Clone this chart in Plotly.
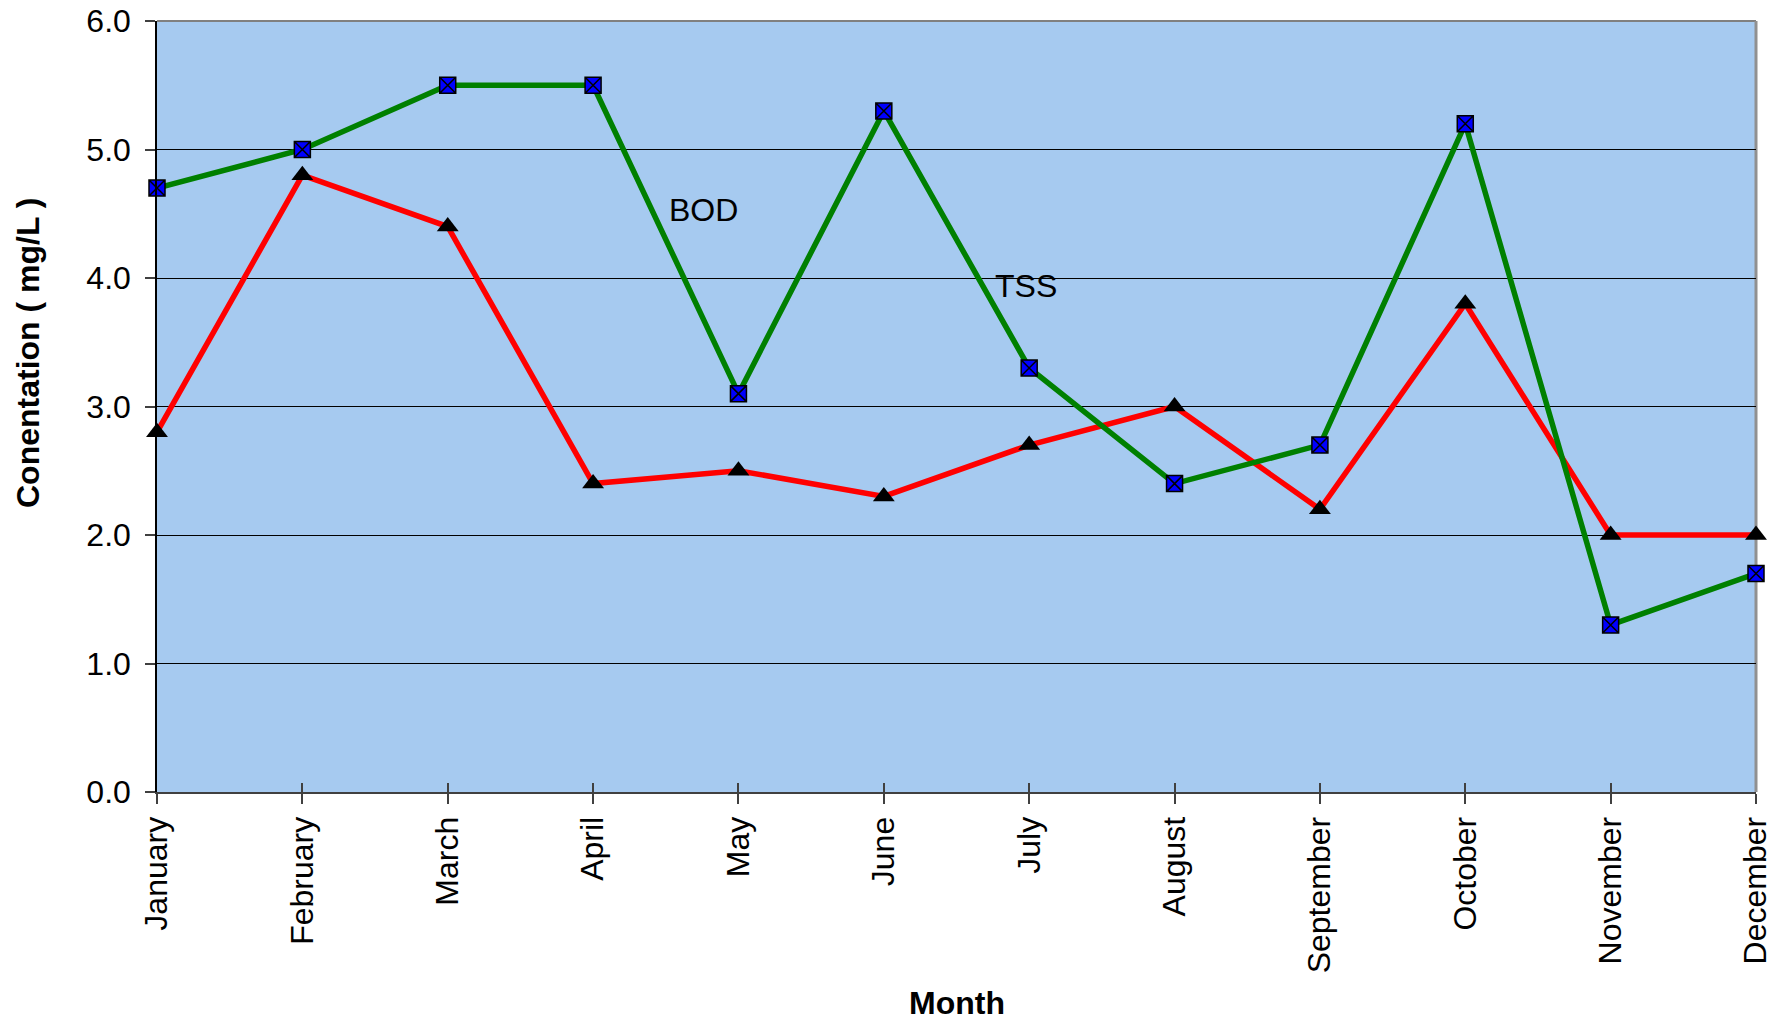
import plotly.graph_objects as go

months = ["January", "February", "March", "April", "May", "June",
          "July", "August", "September", "October", "November", "December"]
bod = [4.7, 5.0, 5.5, 5.5, 3.1, 5.3, 3.3, 2.4, 2.7, 5.2, 1.3, 1.7]
tss = [2.8, 4.8, 4.4, 2.4, 2.5, 2.3, 2.7, 3.0, 2.2, 3.8, 2.0, 2.0]
y_ticks = [0, 1, 2, 3, 4, 5, 6]
y_tick_text = ["0.0", "1.0", "2.0", "3.0", "4.0", "5.0", "6.0"]

FONT = "Liberation Sans, Arial, sans-serif"
FS = 32

fig = go.Figure()

fig.add_trace(go.Scatter(
    x=months, y=tss, name="TSS", mode="lines+markers",
    line=dict(color="#FF0000", width=5.5),
    marker=dict(symbol="triangle-up", size=19, color="black",
                line=dict(color="black", width=0)),
    cliponaxis=False,
))
fig.add_trace(go.Scatter(
    x=months, y=bod, name="BOD", mode="lines+markers",
    line=dict(color="#008000", width=5.5),
    marker=dict(symbol="square-x", size=16, color="#0000FF",
                line=dict(color="black", width=1.5)),
    cliponaxis=False,
))

# inward half of the crossing month ticks
fig.add_trace(go.Scatter(x=months, y=[None] * 12, xaxis="x2", yaxis="y",
                         showlegend=False, hoverinfo="skip"))

fig.add_annotation(x=3.76, y=4.53, text="BOD", showarrow=False,
                   font=dict(family=FONT, size=FS, color="black"))
fig.add_annotation(x=5.98, y=3.94, text="TSS", showarrow=False,
                   font=dict(family=FONT, size=FS, color="black"))

fig.add_annotation(xref="paper", yref="paper", x=-0.081, y=0.57,
                   text="<b>Conentation ( mg/L )</b>", textangle=-90,
                   showarrow=False, xanchor="center", yanchor="middle",
                   font=dict(family=FONT, size=FS, color="black"))
fig.add_annotation(xref="paper", yref="paper", x=0.5, y=-0.274,
                   text="<b>Month</b>", showarrow=False,
                   xanchor="center", yanchor="middle",
                   font=dict(family=FONT, size=FS, color="black"))

# frame lines on the top and right edges of the plot area
fig.add_shape(type="line", xref="paper", yref="paper", x0=0, x1=1, y0=1, y1=1,
              line=dict(color="#808080", width=2), layer="below")
fig.add_shape(type="line", xref="paper", yref="paper", x0=1, x1=1, y0=0, y1=1,
              line=dict(color="#909090", width=3), layer="below")

fig.update_layout(
    width=1788, height=1023,
    margin=dict(l=157, r=32, t=21, b=231),
    paper_bgcolor="white",
    plot_bgcolor="#A6CAF0",
    showlegend=False,
    font=dict(family=FONT, size=FS, color="black"),
    xaxis=dict(
        type="category", range=[0, 11], automargin=False,
        ticks="outside", ticklen=10, tickwidth=1.5, tickcolor="#404040",
        tickangle=-90, showgrid=False, zeroline=False,
        showline=True, linecolor="#404040", linewidth=2,
        tickfont=dict(family=FONT, size=FS, color="black"),
    ),
    xaxis2=dict(
        type="category", range=[0, 11], overlaying="x", anchor="y",
        side="bottom", ticks="inside", ticklen=9, tickwidth=1.5,
        tickcolor="#404040", showticklabels=False, showgrid=False,
        zeroline=False, showline=False, automargin=False,
    ),
    yaxis=dict(
        range=[0, 6], tickvals=y_ticks, ticktext=y_tick_text, automargin=False,
        ticks="outside", ticklen=10, tickwidth=1.5, tickcolor="#404040",
        showgrid=True, gridcolor="black", gridwidth=1,
        zeroline=False, showline=True, linecolor="black", linewidth=1.5,
        tickfont=dict(family=FONT, size=FS, color="black"),
        ticklabelstandoff=8,
    ),
)

fig.write_html("out.html")
